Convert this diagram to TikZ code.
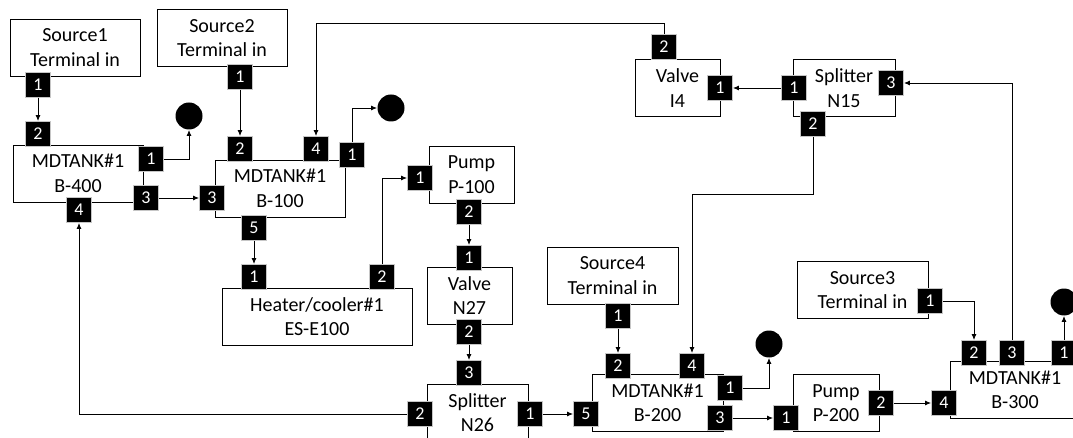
\documentclass[tikz,border=0pt]{standalone}
\usepackage{fontspec}
\setmainfont{Carlito}
\usepackage{tikz}
\usetikzlibrary{arrows.meta}

\begin{document}
\begin{tikzpicture}[
    x=1pt, y=-1pt,
    line width=0.9pt,
    >={Latex[length=6pt, width=5pt]},
    unit/.style={draw, minimum height=57, inner sep=0, align=center,
      font=\fontsize{20}{24.5}\selectfont},
    port/.style={draw=gray!45, fill=black, minimum size=25, inner sep=0,
      text=white, font=\fontsize{18}{18}\selectfont},
    sink/.style={circle, fill=black, minimum size=27, inner sep=0},
  ]
  \clip (0,0) rectangle (1073,438);

  \node[unit, minimum width=130] (src1) at (75,47.5)   {Source1\\Terminal in};
  \node[unit, minimum width=130] (src2) at (222,38)    {Source2\\Terminal in};
  \node[unit, minimum width=130] (b400) at (78,173.5)  {MDTANK\#1\\B-400};
  \node[unit, minimum width=130] (b100) at (280,188.5) {MDTANK\#1\\B-100};
  \node[unit, minimum width=190] (heat) at (317,316.5) {Heater/cooler\#1\\ES-E100};
  \node[unit, minimum width=85]  (p100) at (471.5,174.5) {Pump\\P-100};
  \node[unit, minimum width=85]  (n27)  at (469.5,295.5) {Valve\\N27};
  \node[unit, minimum width=101] (n26)  at (477.5,412.5) {Splitter\\N26};
  \node[unit, minimum width=85]  (i4)   at (677.5,88)  {Valve\\I4};
  \node[unit, minimum width=102] (n15)  at (844,88)    {Splitter\\N15};
  \node[unit, minimum width=131] (src4) at (612.5,275.5) {Source4\\Terminal in};
  \node[unit, minimum width=131] (src3) at (862.5,290) {Source3\\Terminal in};
  \node[unit, minimum width=131] (b200) at (657.5,403) {MDTANK\#1\\B-200};
  \node[unit, minimum width=86]  (p200) at (836,403)   {Pump\\P-200};
  \node[unit, minimum width=130] (b300) at (1015,390)  {MDTANK\#1\\B-300};

  % ports
  \node[port] (src1p1) at (38,85)   {1};
  \node[port] (b400p2) at (38,134)  {2};
  \node[port] (b400p1) at (151,159) {1};
  \node[port] (b400p3) at (146,198) {3};
  \node[port] (b400p4) at (79,210)  {4};
  \node[port] (src2p1) at (240,77)  {1};
  \node[port] (b100p2) at (240,149) {2};
  \node[port] (b100p4) at (316,149) {4};
  \node[port] (b100p1) at (352,155) {1};
  \node[port] (b100p3) at (212,198) {3};
  \node[port] (b100p5) at (254,228) {5};
  \node[port] (heatp1) at (254,277) {1};
  \node[port] (heatp2) at (382,277) {2};
  \node[port] (p100p1) at (420,178) {1};
  \node[port] (p100p2) at (469,212) {2};
  \node[port] (n27p1)  at (469,258) {1};
  \node[port] (n27p2)  at (469,332) {2};
  \node[port] (n26p3)  at (469,373) {3};
  \node[port] (n26p2)  at (420,414) {2};
  \node[port] (n26p1)  at (530,414) {1};
  \node[port] (i4p2)   at (664,47)  {2};
  \node[port] (i4p1)   at (720,88)  {1};
  \node[port] (n15p1)  at (794,88)  {1};
  \node[port] (n15p3)  at (891,83)  {3};
  \node[port] (n15p2)  at (813,124) {2};
  \node[port] (src4p1) at (618,316) {1};
  \node[port] (b200p2) at (618,366) {2};
  \node[port] (b200p4) at (692,366) {4};
  \node[port] (b200p1) at (730,388) {1};
  \node[port] (b200p3) at (720,418) {3};
  \node[port] (b200p5) at (586,414) {5};
  \node[port] (p200p1) at (786,418) {1};
  \node[port] (p200p2) at (881,403) {2};
  \node[port] (b300p4) at (944,403) {4};
  \node[port] (b300p2) at (974,353) {2};
  \node[port] (b300p3) at (1012,353) {3};
  \node[port] (b300p1) at (1064,353) {1};
  \node[port] (src3p1) at (930,301) {1};

  \node[sink] (sink1) at (189,116)  {};
  \node[sink] (sink2) at (391,108)  {};
  \node[sink] (sink3) at (769,344)  {};
  \node[sink] (sink4) at (1064,302) {};

  \coordinate (topy) at (0,23);
  \coordinate (midy) at (0,194);

  \path[->]
  (src1p1) edge (b400p2)
  (src2p1) edge (b100p2)
  (b400p3) edge (b100p3)
  (b100p5) edge (heatp1)
  (p100p2) edge (n27p1)
  (n27p2)  edge (n26p3)
  (n26p1)  edge (b200p5)
  (n15p1)  edge (i4p1)
  (src4p1) edge (b200p2)
  (b200p3) edge (p200p1)
  (p200p2) edge (b300p4)
  (b300p1) edge (sink4);

  \draw[->] (b400p1.east) -| (sink1.south);
  \draw[->] (b100p1.north) |- (sink2.west);
  \draw[->] (heatp2.north) |- (p100p1.west);
  \draw[->] (n26p2.west) -| (b400p4.south);
  \draw[->] (i4p2.north) -- (i4p2.north |- topy) -| (b100p4.north);
  \draw[->] (n15p2.south) -- (n15p2.south |- midy) -| (b200p4.north);
  \draw[->] (b200p1.east) -| (sink3.south);
  \draw[->] (src3p1.east) -| (b300p2.north);
  \draw[->] (b300p3.north) |- (n15p3.east);
\end{tikzpicture}
\end{document}
